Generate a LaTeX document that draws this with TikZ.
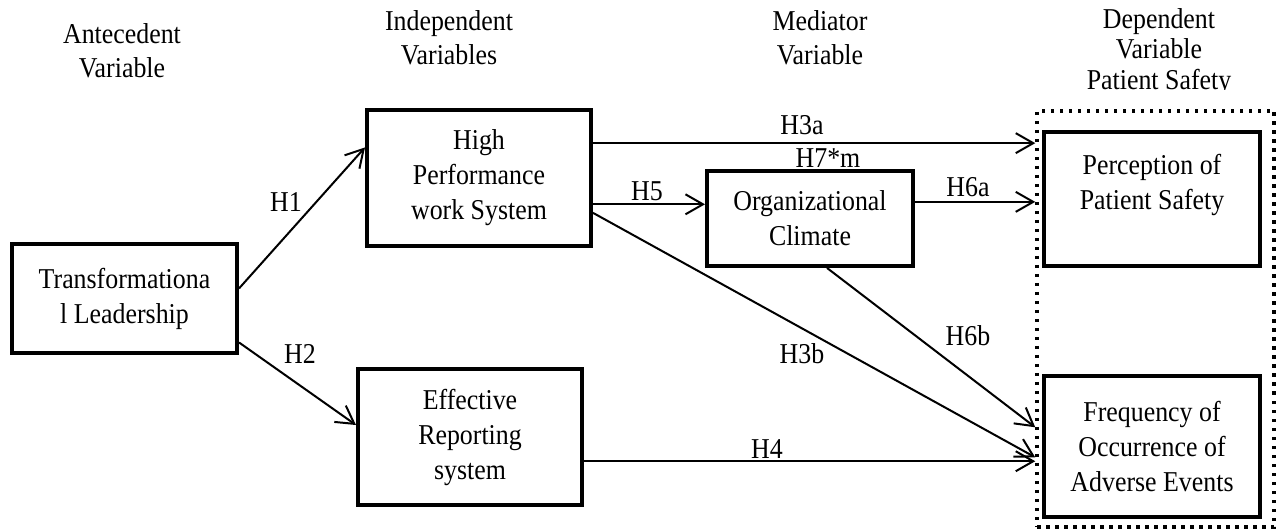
\documentclass[tikz,border=0pt]{standalone}
\usepackage{fontspec}
\setmainfont{Liberation Serif}[FakeStretch=0.9]
\usepackage{tikz}
\usetikzlibrary{arrows.meta}

\begin{document}
\begin{tikzpicture}[
  x=0.4pt,y=-0.4pt,
  font=\fontsize{11.5}{14}\selectfont,
  every node/.style={align=center,inner sep=0pt},
  colhead/.style={font=\fontsize{11.5}{13.6}\selectfont},
  varbox/.style={draw=black,line width=1.6pt,
                minimum width=89.6pt,minimum height=54.4pt},
  dvframe/.style={draw=black,line width=1.4pt,dash pattern=on 1.4pt off 2.2pt,
                minimum width=94.8pt,minimum height=166.4pt},
  flow/.style={-{Straight Barb[length=7pt,width=8pt]},line width=0.8pt,black}
]
\useasboundingbox (0,0) rectangle (1280,531);

% Column headings
\node[colhead] (hante) at (122,51) {Antecedent\\Variable};
\node[colhead] (hindep) at (449,38) {Independent\\Variables};
\node[colhead] (hmedi) at (820,38) {Mediator\\Variable};
\begin{scope}
  \clip (980,0) rectangle (1280,90);
  \node[font=\fontsize{11.5}{12.2}\selectfont] (hdep) at (1159,52)
    {Dependent\\Variable\\Patient Safety};
\end{scope}

% --- Variable boxes ---
\node[varbox,minimum width=90pt,minimum height=43.6pt] (tl) at (124.5,298.5)
  {Transformationa\\l Leadership};
\node[varbox] (hpws) at (479,178)
  {High\\Performance\\work System};
\node[varbox] (ers) at (470,437)
  {Effective\\Reporting\\system};
\node[varbox,minimum width=82.4pt,minimum height=38pt] (oc) at (810,218.5)
  {Organizational\\Climate};
\node[varbox,minimum width=86.4pt,minimum height=53.6pt] (pps) at (1152,199)
  {Perception of\\Patient Safety\\~};
\node[varbox,minimum width=86.4pt,minimum height=56.4pt] (foae) at (1152,446.5)
  {Frequency of\\Occurrence of\\Adverse Events};

% Dotted frame round the dependent variables
\node[dvframe] (dv) at (1155.5,319) {};

% --- Hypothesis labels ---
\node (lhone) at (286,202) {H1};
\node (lhtwo) at (300,354) {H2};
\node (lhthreea) at (802,125) {H3a};
\node (lhsevenm) at (828,158) {H7*m};
\node (lhfive) at (647,191) {H5};
\node (lhsixa) at (968,187) {H6a};
\node (lhsixb) at (968,336) {H6b};
\node (lhthreeb) at (802,354) {H3b};
\node (lhfour) at (767,449) {H4};

% --- Paths ---
\draw[flow] (tl.5) -- (hpws.165);
\draw[flow] (tl.-21) -- (ers.174);
\draw[flow] (hpws.17) -- (hpws.17 -| dv.west);
\draw[flow] (hpws.-13) -- (hpws.-13 -| oc.west);
\draw[flow] (oc.9) -- (oc.9 -| dv.west);
\draw[flow] (hpws.-17) -- (dv.229);
\draw[flow] (oc.-71) -- (dv.222);
\draw[flow] (ers.-12) -- (ers.-12 -| dv.west);
\end{tikzpicture}
\end{document}
